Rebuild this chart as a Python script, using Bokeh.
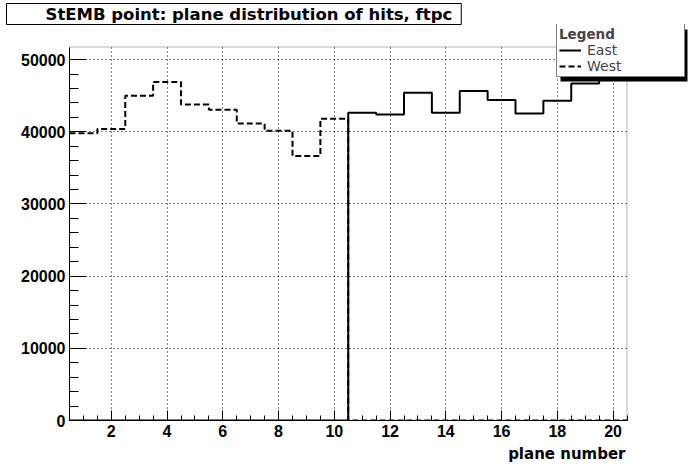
import numpy as np
from bokeh.plotting import figure
from bokeh.models import (Range1d, SingleIntervalTicker, BasicTickFormatter, Legend,
                          LegendItem, BoxAnnotation, Title)
from bokeh.embed import file_html
from bokeh.resources import INLINE

# ---------------- data ----------------
planes = list(range(1, 21))
east = [0, 0, 0, 0, 0, 0, 0, 0, 0, 0,
        42650, 42400, 45400, 42650, 45650, 44400, 42550, 44300, 46700, 49300]
west = [39800, 40400, 45000, 46900, 43800, 43050, 41150, 40150, 36650, 41800,
        0, 0, 0, 0, 0, 0, 0, 0, 0, 0]
title_text = "StEMB point: plane distribution of hits, ftpc"
x_title = "plane number"
legend_title = "Legend"
series_names = ["East", "West"]

TICK_FONT = "Liberation Sans"
TITLE_FONT = "DejaVu Sans"

# histogram axis limits (ROOT frame)
X0, X1 = 0.5, 20.5
Y0, Y1 = 0, 51750

# canvas geometry
W, H = 696, 468
FL, FR, FT, FB = 69, 696, 24, 420          # bokeh frame (extended right/top)
DATA_RIGHT_PX, DATA_TOP_PX = 626.5, 46.5   # where the ROOT frame ends
x_end = X0 + (X1 - X0) * (FR - FL) / (DATA_RIGHT_PX - FL)
y_end = Y0 + (Y1 - Y0) * (FB - FT) / (FB - DATA_TOP_PX)

edges = np.concatenate([[planes[0] - 0.5], np.array(planes) + 0.5])


def staircase(vals):
    xs = np.repeat(edges, 2)[1:-1]
    ys = np.repeat(np.array(vals, dtype=float), 2)
    return xs, ys


p = figure(width=W, height=H, output_backend="svg", toolbar_location=None,
           title=None, x_range=Range1d(X0, x_end), y_range=Range1d(Y0, y_end),
           min_border_left=FL, min_border_right=W - FR, min_border_top=FT,
           min_border_bottom=H - FB)
p.background_fill_color = "white"
p.border_fill_color = "white"
p.outline_line_color = None

# axes
p.xaxis.ticker = SingleIntervalTicker(interval=2, num_minor_ticks=4)
p.yaxis.ticker = SingleIntervalTicker(interval=10000, num_minor_ticks=5)
p.yaxis.formatter = BasicTickFormatter(use_scientific=False)
p.xaxis.bounds = (X0, X1)
p.yaxis.bounds = (Y0, Y1)
for ax in (p.xaxis, p.yaxis):
    ax.axis_line_color = "black"
    ax.major_tick_line_color = "black"
    ax.minor_tick_line_color = "black"
    ax.major_tick_out = 0
    ax.minor_tick_out = 0
    ax.major_label_text_font = TICK_FONT
    ax.major_label_text_font_style = "bold"
    ax.major_label_text_font_size = "16px"
    ax.major_label_text_color = "black"
    ax.major_label_standoff = 4
p.xaxis.major_tick_in = 10
p.xaxis.minor_tick_in = 5
p.yaxis.major_tick_in = 17
p.yaxis.minor_tick_in = 9

for g in (p.xgrid, p.ygrid):
    g.grid_line_color = "black"
    g.grid_line_dash = "1 3"
    g.grid_line_width = 1

# hide the grid outside the ROOT frame
p.add_layout(BoxAnnotation(left=X0, right=x_end, bottom=Y1, top=y_end,
                           fill_color="white", fill_alpha=1, line_color=None,
                           level="underlay"))
p.add_layout(BoxAnnotation(left=X1, right=x_end, bottom=Y0, top=y_end,
                           fill_color="white", fill_alpha=1, line_color=None,
                           level="underlay"))
# ROOT frame border
p.add_layout(BoxAnnotation(left=X0, right=X1, bottom=Y0, top=Y1,
                           fill_alpha=0, line_color="black", line_width=1,
                           level="underlay"))

# histograms
ex, ey = staircase(east)
wx, wy = staircase(west)
east_r = p.line(ex, ey, line_color="black", line_width=2)
west_r = p.line(wx, wy, line_color="black", line_width=2, line_dash="6 3")

# title box (above panel)
p.add_layout(Title(text=title_text, align="left", offset=-63,
                   text_font=TITLE_FONT, text_font_style="bold",
                   text_font_size="16.5px", text_color="black",
                   standoff=0, padding=(39, 9, 1, 1),
                   background_fill_color="white", background_fill_alpha=1,
                   border_line_color="black", border_line_width=1), "above")

# legend shadow + legend
p.add_layout(BoxAnnotation(left=560, right=687, top=29, bottom=81,
                           left_units="canvas", right_units="canvas",
                           top_units="canvas", bottom_units="canvas",
                           fill_color="black", fill_alpha=1, line_color=None))

legend = Legend(items=[LegendItem(label=series_names[0], renderers=[east_r]),
                       LegendItem(label=series_names[1], renderers=[west_r])],
                location=(487, 343), title=legend_title,
                title_text_font=TITLE_FONT, title_text_font_style="bold",
                title_text_font_size="13.5px", title_standoff=0,
                label_text_font=TITLE_FONT, label_text_font_size="14px",
                label_height=16, glyph_height=16, glyph_width=22,
                label_standoff=6, label_width=95, spacing=0, padding=2, margin=0,
                border_line_color="black", border_line_width=1,
                background_fill_color="white", background_fill_alpha=1)
p.add_layout(legend)

# x axis title, right aligned (ROOT style)
p.add_layout(Title(text=x_title, align="right", offset=W - 625,
                   text_font=TITLE_FONT, text_font_style="bold",
                   text_font_size="15px", text_color="black", standoff=6), "below")

open("out.html", "w").write(file_html(p, INLINE))
